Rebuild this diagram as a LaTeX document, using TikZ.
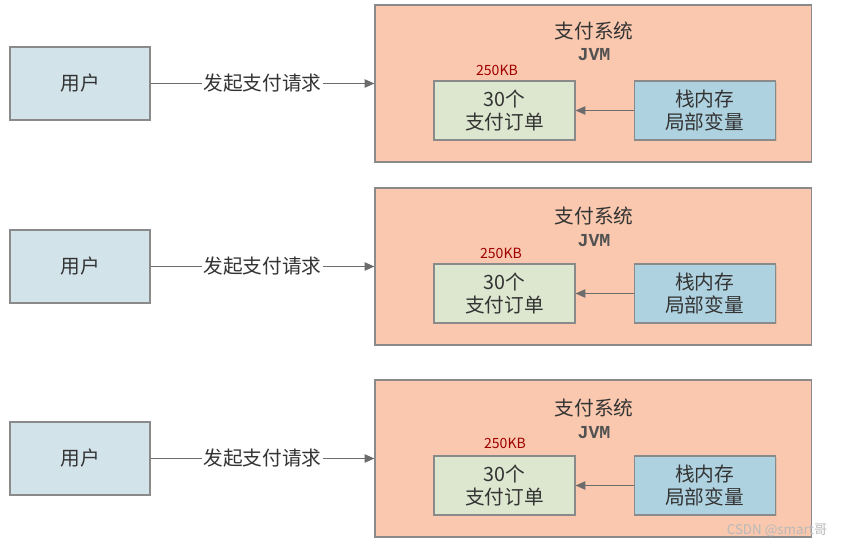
\documentclass[tikz,border=0pt]{standalone}
\usepackage{fontspec}
\setmainfont{Noto Sans CJK SC}
\newfontfamily\jvmfont{Liberation Mono}
\usepackage{xcolor}
\usetikzlibrary{arrows.meta, positioning, shadows}

\definecolor{userfill}{HTML}{D2E3EA}
\definecolor{sysfill}{HTML}{F9C8AE}
\definecolor{orderfill}{HTML}{DDE6CF}
\definecolor{stackfill}{HTML}{AFD2E0}
\definecolor{edgegray}{HTML}{8A8A8A}
\definecolor{textgray}{HTML}{333333}
\definecolor{kbred}{HTML}{A00000}

\begin{document}
\begin{tikzpicture}[
		x=0.025cm, y=-0.025cm,
		% box styles
		userbox/.style={
				rectangle,
				draw=edgegray,
				line width=0.8pt,
				minimum width=3.5cm,
				minimum height=1.825cm,
				align=center,
				font=\fontsize{14}{17}\selectfont,
				text=textgray,
				fill=userfill,
				drop shadow={shadow xshift=1pt, shadow yshift=-1pt, opacity=0.2}
			},
		sysbox/.style={
				rectangle,
				draw=edgegray,
				line width=0.8pt,
				minimum width=10.9cm,
				minimum height=3.925cm,
				fill=sysfill,
				drop shadow={shadow xshift=1pt, shadow yshift=-1pt, opacity=0.2}
			},
		orderbox/.style={
				rectangle,
				draw=edgegray,
				line width=0.8pt,
				minimum width=3.525cm,
				minimum height=1.475cm,
				align=center,
				font=\fontsize{14}{17}\selectfont,
				text=textgray,
				fill=orderfill,
				drop shadow={shadow xshift=1pt, shadow yshift=-1pt, opacity=0.2}
			},
		stackbox/.style={
				orderbox,
				fill=stackfill
			},
		titletext/.style={
				font=\fontsize{14}{17}\selectfont,
				text=textgray,
				inner sep=0pt
			},
		jvmtext/.style={
				font=\jvmfont\bfseries\fontsize{13}{15}\selectfont,
				text=textgray!85,
				inner sep=0pt
			},
		kbtext/.style={
				font=\fontsize{10}{12}\selectfont,
				text=kbred,
				inner sep=0pt
			},
		reqlabel/.style={
				font=\fontsize{14}{17}\selectfont,
				text=textgray,
				fill=white,
				inner sep=1pt
			},
		% arrow style
		arrow/.style={
				-{Triangle[length=7pt,width=6pt]},
				line width=0.8pt,
				draw=gray!85!black
			}
		]

		\useasboundingbox (0,0) rectangle (842,547);

		% First request
		\node[userbox] (user_a) at (80,83.5) {用户};
		\node[sysbox] (sys_a) at (593,83.5) {};
		\node[titletext] (title_a) at (594,31) {支付系统};
		\node[jvmtext] (jvm_a) at (594,55) {JVM};
		\node[orderbox] (order_a) at (504.5,110.5) {30个\\支付订单};
		\node[stackbox, right=1.45cm of order_a] (stack_a) {栈内存\\局部变量};
		\node[kbtext] (kb_a) at (497,70) {250KB};

		% Second request
		\node[userbox] (user_b) at (80,266.5) {用户};
		\node[sysbox] (sys_b) at (593,266.5) {};
		\node[titletext] (title_b) at (594,216) {支付系统};
		\node[jvmtext] (jvm_b) at (594,241) {JVM};
		\node[orderbox] (order_b) at (504.5,293.5) {30个\\支付订单};
		\node[stackbox, right=1.45cm of order_b] (stack_b) {栈内存\\局部变量};
		\node[kbtext] (kb_b) at (501,253) {250KB};

		% Third request
		\node[userbox] (user_c) at (80,458.5) {用户};
		\node[sysbox] (sys_c) at (593,458.5) {};
		\node[titletext] (title_c) at (594,408) {支付系统};
		\node[jvmtext] (jvm_c) at (594,433) {JVM};
		\node[orderbox] (order_c) at (504.5,485.5) {30个\\支付订单};
		\node[stackbox, right=1.45cm of order_c] (stack_c) {栈内存\\局部变量};
		\node[kbtext] (kb_c) at (505,443) {250KB};

		% Drawing request arrows
		\draw[arrow] (user_a.east) -- node[reqlabel] {发起支付请求} (sys_a.west);
		\draw[arrow] (user_b.east) -- node[reqlabel] {发起支付请求} (sys_b.west);
		\draw[arrow] (user_c.east) -- node[reqlabel] {发起支付请求} (sys_c.west);

		% Drawing stack arrows
		\draw[arrow] (stack_a.west) -- (order_a.east);
		\draw[arrow] (stack_b.west) -- (order_b.east);
		\draw[arrow] (stack_c.west) -- (order_c.east);

		% Watermark
		\node[font=\fontsize{9.5}{11}\selectfont, text=gray!55] (mark) at (777,530) {CSDN @smart哥};

	\end{tikzpicture}
\end{document}
